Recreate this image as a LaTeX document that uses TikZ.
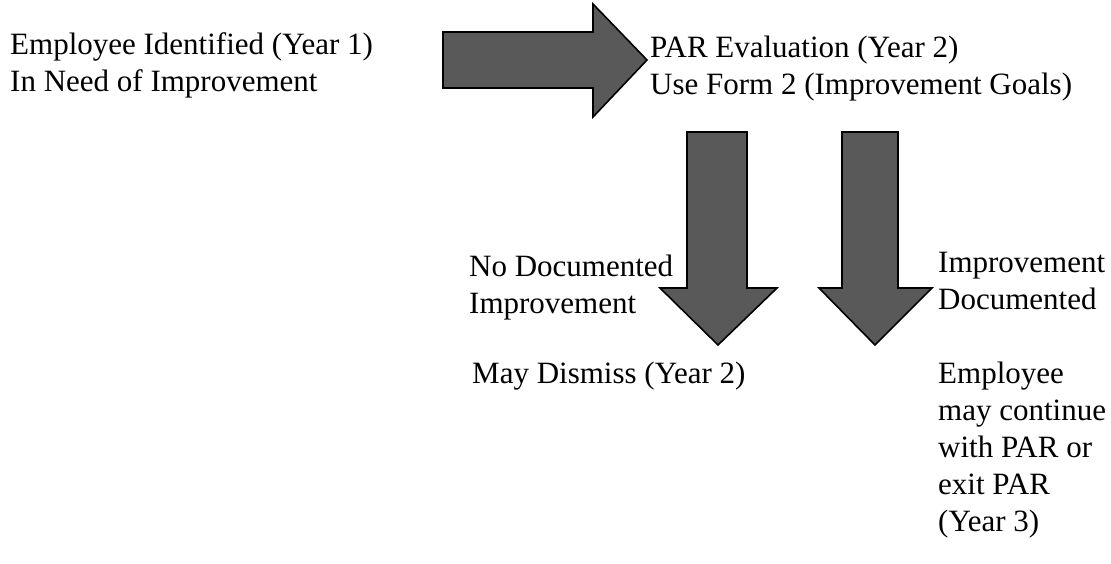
\documentclass[tikz,border=0pt]{standalone}
\usepackage{fontspec}
\setmainfont{Liberation Serif}
\begin{document}
\begin{tikzpicture}[x=1pt,y=-1pt,
  lbl/.style={anchor=base west,inner sep=0pt,align=left,font=\fontsize{31}{37}\selectfont},
  blockarrow/.style={draw=black,line width=1.6pt,fill=black!65,line join=miter}]
\useasboundingbox (0,0) rectangle (1111,564);
% block arrows
\draw[blockarrow] (443,32) -- (593,32) -- (593,4) -- (647,60) -- (593,117) -- (593,88) -- (443,88) -- cycle;
\draw[blockarrow] (687,132) -- (747,132) -- (747,288) -- (777,288) -- (718,345) -- (660,288) -- (687,288) -- cycle;
\draw[blockarrow] (842,132) -- (898,132) -- (898,288) -- (932,288) -- (875,345) -- (819,288) -- (842,288) -- cycle;
% texts (anchor = baseline of the last line)
\node[lbl] (emp) at (10,92) {Employee Identified (Year 1)\\In Need of Improvement};
\node[lbl] (par) at (650,95) {PAR Evaluation (Year 2)\\Use Form 2 (Improvement Goals)};
\node[lbl] (nodoc) at (469,313) {No Documented\\Improvement};
\node[lbl] (impdoc) at (938,309) {Improvement\\Documented};
\node[lbl] (dis) at (472,383) {May Dismiss (Year 2)};
\node[lbl] (cont) at (938,531) {Employee\\may continue\\with PAR or\\exit PAR\\(Year 3)};
\end{tikzpicture}
\end{document}
